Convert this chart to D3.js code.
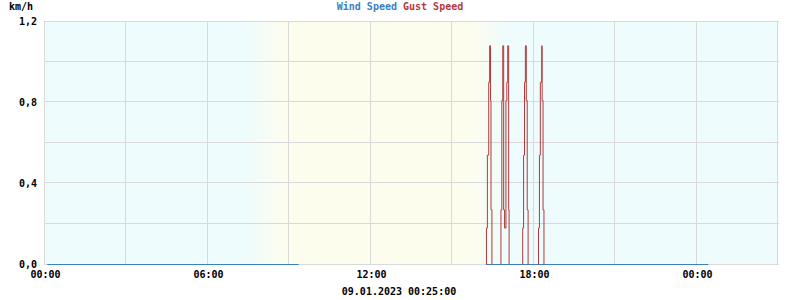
<!DOCTYPE html>
<html lang="en">
<head>
<meta charset="utf-8">
<title>Wind</title>
<style>
  body { margin: 0; background: #fff; }
  svg text { font-family: "DejaVu Sans Mono", monospace; font-weight: bold; font-size: 10px; }
</style>
</head>
<body>
<svg width="800" height="300"></svg>
<script src="https://cdn.jsdelivr.net/npm/d3@7"></script>
<script>
// chart data
var startTime = "2023-01-08 00:00",
    endTime = "2023-01-09 03:00",
    stamp = "09.01.2023 00:25:00",
    unit = "km/h";

var windTimes  = ["2023-01-08 00:05", "2023-01-08 09:20", null, "2023-01-08 16:14", "2023-01-09 00:25"];
var windValues = [0, 0, null, 0, 0];

var gustTimes = [
  "2023-01-08 16:15", "2023-01-08 16:15", "2023-01-08 16:17", "2023-01-08 16:20", "2023-01-08 16:22", "2023-01-08 16:24", "2023-01-08 16:25", "2023-01-08 16:27", null,
  "2023-01-08 16:47", "2023-01-08 16:47", "2023-01-08 16:49", "2023-01-08 16:51", "2023-01-08 16:53", "2023-01-08 16:55",
  "2023-01-08 16:58", "2023-01-08 17:00", "2023-01-08 17:02", "2023-01-08 17:04", "2023-01-08 17:05", null,
  "2023-01-08 17:35", "2023-01-08 17:35", "2023-01-08 17:37", "2023-01-08 17:39", "2023-01-08 17:41", "2023-01-08 17:43", "2023-01-08 17:45", "2023-01-08 17:47", null,
  "2023-01-08 18:10", "2023-01-08 18:10", "2023-01-08 18:12", "2023-01-08 18:14", "2023-01-08 18:17", "2023-01-08 18:18", "2023-01-08 18:20", "2023-01-08 18:22"
];
var gustValues = [
  0, 0.18, 0.54, 0.9, 1.08, 0.81, 0.27, 0, null,
  0, 0.27, 0.81, 1.08, 0.27, 0.18,
  0.81, 0.9, 1.08, 0.27, 0, null,
  0, 0.18, 0.54, 0.9, 1.08, 0.81, 0.27, 0, null,
  0, 0.18, 0.54, 0.9, 1.08, 0.81, 0.27, 0
];

// dawn start, day start, dusk start, night start
var twilight = ["2023-01-08 07:20", "2023-01-08 08:55", "2023-01-08 15:40", "2023-01-08 17:00"];

var yTicks = [0, 0.4, 0.8, 1.2];

var parse = d3.timeParse("%Y-%m-%d %H:%M");

var svg = d3.select("svg");
var pLeft = 45, pRight = 778.5, pTop = 21.5, pBottom = 264.5;

var x = d3.scaleTime().domain([parse(startTime), parse(endTime)]).range([pLeft, pRight]);
var y = d3.scaleLinear().domain([0, 1.2]).range([pBottom, pTop]);

var nightCol = "#eefcfd", dayCol = "#fdfdee", gridCol = "#d9d9d9";
var windCol = "#3a7fbf", gustCol = "#b23a3a";

// background day / night gradient
var grad = svg.append("defs").append("linearGradient")
    .attr("id", "sky")
    .attr("gradientUnits", "userSpaceOnUse")
    .attr("x1", pLeft).attr("x2", pRight).attr("y1", 0).attr("y2", 0);
var tw = twilight.map(function(t) { return (x(parse(t)) - pLeft) / (pRight - pLeft); });
[[0, nightCol], [tw[0], nightCol], [tw[1], dayCol], [tw[2], dayCol], [tw[3], nightCol], [1, nightCol]]
  .forEach(function(s) { grad.append("stop").attr("offset", s[0]).attr("stop-color", s[1]); });

svg.append("rect")
    .attr("x", pLeft).attr("y", pTop)
    .attr("width", pRight - pLeft).attr("height", pBottom - pTop)
    .attr("fill", "url(#sky)");

// grid
var g = svg.append("g").attr("shape-rendering", "crispEdges");
g.selectAll(".hg").data(y.ticks(6)).enter().append("line")
    .attr("x1", pLeft).attr("x2", pRight)
    .attr("y1", function(d) { return Math.round(y(d)) - 0.5; })
    .attr("y2", function(d) { return Math.round(y(d)) - 0.5; })
    .attr("stroke", gridCol);
g.selectAll(".vg").data(x.ticks(d3.timeHour.every(3)).concat([x.domain()[1]])).enter().append("line")
    .attr("x1", function(d) { return Math.floor(x(d)) - 0.5; })
    .attr("x2", function(d) { return Math.floor(x(d)) - 0.5; })
    .attr("y1", pTop - 0.5).attr("y2", pBottom)
    .attr("stroke", gridCol);

// series
function series(times, values) {
  return times.map(function(t, i) { return t === null ? null : { t: parse(t), v: values[i] }; });
}
var line = d3.line()
    .defined(function(d) { return d !== null; })
    .x(function(d) { return x(d.t); })
    .y(function(d) { return y(d.v); })
    .curve(d3.curveStepAfter);

svg.append("path")
    .datum(series(windTimes, windValues))
    .attr("d", line)
    .attr("fill", "none").attr("stroke", windCol).attr("stroke-width", 1.2);

svg.append("path")
    .datum(series(gustTimes, gustValues))
    .attr("d", line)
    .attr("fill", "none").attr("stroke", gustCol).attr("stroke-width", 1);

// axes
var yAxis = svg.append("g")
    .attr("transform", "translate(" + pLeft + ",0)")
    .call(d3.axisLeft(y).tickValues(yTicks).tickSize(0).tickPadding(8)
      .tickFormat(function(d) { return d3.format(".1f")(d).replace(".", ","); }));
yAxis.select(".domain").remove();

var xAxis = svg.append("g")
    .attr("transform", "translate(0," + pBottom + ")")
    .call(d3.axisBottom(x).ticks(d3.timeHour.every(6)).tickSize(0).tickPadding(6)
      .tickFormat(d3.timeFormat("%H:%M")));
xAxis.select(".domain").remove();
svg.selectAll(".tick text").attr("fill", "#000").style("font-size", "10px").style("font-family", "'DejaVu Sans Mono', monospace");

// texts
svg.append("text").attr("x", 9).attr("y", 10).text(unit);

var title = svg.append("text").attr("x", 400).attr("y", 10).attr("text-anchor", "middle");
title.append("tspan").attr("fill", windCol).text("Wind Speed");
title.append("tspan").attr("fill", gustCol).text(" Gust Speed");

svg.append("text").attr("x", 399).attr("y", 295).attr("text-anchor", "middle").text(stamp);
</script>
</body>
</html>
